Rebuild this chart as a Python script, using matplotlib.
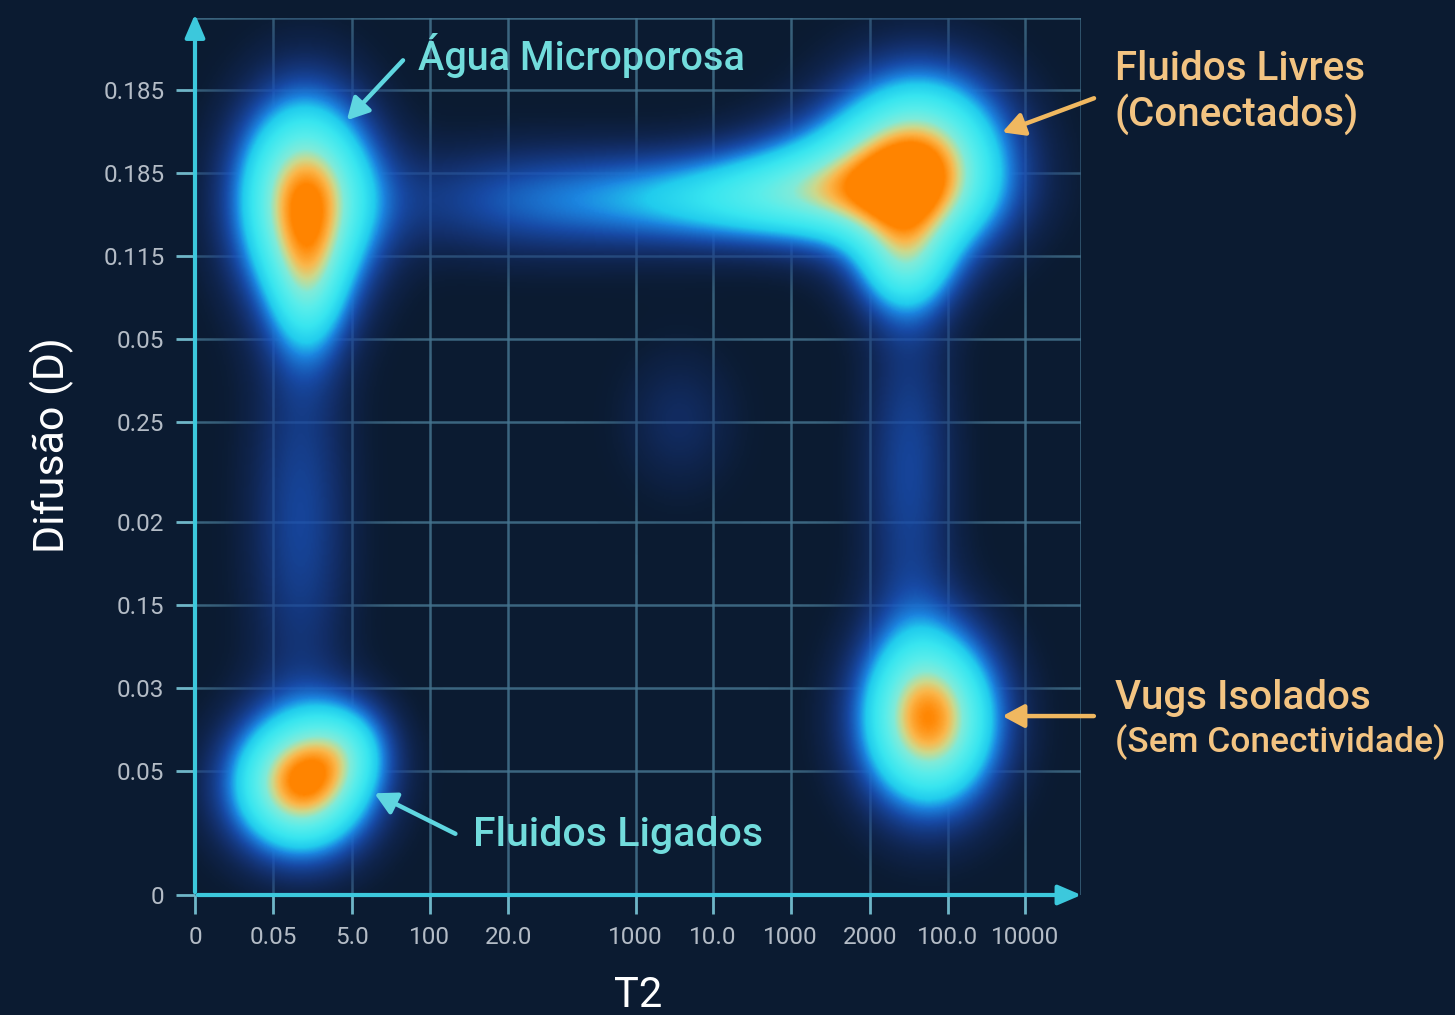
import numpy as np
import matplotlib.pyplot as plt
from matplotlib.colors import LinearSegmentedColormap

plt.rcParams['font.family'] = ['Roboto', 'DejaVu Sans']

t2_labels = ['0', '0.05', '5.0', '100', '20.0', '1000', '10.0', '1000', '2000', '100.0', '10000']
t2_pos = [0, 1, 2, 3, 4, 5.63, 6.62, 7.61, 8.62, 9.62, 10.61]
d_labels = ['0', '0.05', '0.03', '0.15', '0.02', '0.25', '0.05', '0.115', '0.185', '0.185']
d_pos = [0, 1.49, 2.49, 3.49, 4.49, 5.70, 6.70, 7.70, 8.70, 9.70]

# componentes do mapa T2-D (centro, espalhamento, amplitude)
blob_x = [1.40, 1.44, 9.26, 7.30, 7.95, 9.07, 9.39, 1.34, 1.98, 1.34, 4.28, 9.13, 6.19]
blob_y = [8.40, 7.20, 8.84, 8.40, 8.72, 7.57, 2.11, 1.33, 1.81, 4.52, 8.37, 5.12, 5.72]
blob_sx = [0.62, 0.35, 0.80, 1.45, 0.80, 0.45, 0.63, 0.64, 0.42, 0.50, 1.40, 0.45, 0.55]
blob_sy = [0.88, 0.60, 0.76, 0.42, 0.50, 0.45, 0.76, 0.60, 0.42, 1.70, 0.50, 1.60, 0.65]
blob_amp = [0.95, 0.30, 0.92, 0.50, 0.22, 0.42, 0.96, 0.95, 0.26, 0.24, 0.26, 0.24, 0.14]

xmax, ymax = 11.32, 10.57
bg = '#0b1b31'

xx = np.linspace(0, xmax, 700)
yy = np.linspace(0, ymax, 650)
X, Y = np.meshgrid(xx, yy)
Z = np.zeros_like(X)
for cx, cy, sx, sy, a in zip(blob_x, blob_y, blob_sx, blob_sy, blob_amp):
    Z += a * np.exp(-0.5 * ((X - cx) / sx) ** 2 - 0.5 * ((Y - cy) / sy) ** 2)
Z = np.clip(Z, 0, 1)

nodes = [
    (0.00, (0.05, 0.11, 0.19, 0.0)),
    (0.06, (0.07, 0.16, 0.36, 0.35)),
    (0.15, (0.09, 0.22, 0.52, 0.65)),
    (0.26, (0.10, 0.32, 0.72, 0.88)),
    (0.36, (0.11, 0.52, 0.88, 1.0)),
    (0.44, (0.13, 0.80, 0.93, 1.0)),
    (0.55, (0.22, 0.90, 0.94, 1.0)),
    (0.68, (0.35, 0.93, 0.92, 1.0)),
    (0.78, (0.50, 0.92, 0.85, 1.0)),
    (0.86, (0.80, 0.85, 0.55, 1.0)),
    (0.92, (0.98, 0.72, 0.30, 1.0)),
    (0.97, (1.00, 0.60, 0.12, 1.0)),
    (1.00, (1.00, 0.52, 0.00, 1.0)),
]
cmap = LinearSegmentedColormap.from_list('t2d', nodes)

fig = plt.figure(figsize=(14.55, 10.15), dpi=100, facecolor=bg)
ax = fig.add_axes([195 / 1455, 1 - 895 / 1015, 886 / 1455, 877 / 1015])
ax.set_facecolor(bg)
ax.set_xlim(0, xmax)
ax.set_ylim(0, ymax)

gcol = '#44738e'
for p in t2_pos[1:]:
    ax.axvline(p, color=gcol, lw=1.8, alpha=0.85, zorder=0.5)
for p in d_pos[1:]:
    ax.axhline(p, color=gcol, lw=1.8, alpha=0.85, zorder=0.5)
ax.axvline(xmax, color=gcol, lw=1.8, alpha=0.85, zorder=0.5)
ax.axhline(ymax, color=gcol, lw=1.8, alpha=0.85, zorder=0.5)

ax.imshow(Z, extent=[0, xmax, 0, ymax], origin='lower', cmap=cmap,
          vmin=0, vmax=1, aspect='auto', interpolation='bilinear', zorder=1)

for s in ax.spines.values():
    s.set_visible(False)

acol = '#3cc8dc'
ax.annotate('', xy=(0, ymax + 0.08), xytext=(0, 0), annotation_clip=False,
            arrowprops=dict(arrowstyle='-|>,head_length=1.4,head_width=0.6',
                            color=acol, lw=3), zorder=3)
ax.annotate('', xy=(xmax + 0.04, 0), xytext=(0, 0), annotation_clip=False,
            arrowprops=dict(arrowstyle='-|>,head_length=1.4,head_width=0.6',
                            color=acol, lw=3), zorder=3)

ax.set_xticks(t2_pos)
ax.set_xticklabels(t2_labels)
ax.set_yticks(d_pos)
ax.set_yticklabels(d_labels)
ax.tick_params(colors='#6fb6c8', labelcolor='#b4bcc6', labelsize=17.5,
               length=14, width=2, pad=8)

ax.set_xlabel('T2', color='white', fontsize=30, labelpad=19)
ax.set_ylabel('Difusão (D)', color='white', fontsize=31)
ax.yaxis.set_label_coords(-0.137, 0.513)

cyan_txt = '#72dcdc'
orange_txt = '#f3c482'


def px(x, y):
    return ((x - 195) / 78.3, (895 - y) / 83)


def note(xt, xa, col):
    ax.annotate('', xy=px(*xa), xytext=px(*xt), annotation_clip=False,
                arrowprops=dict(arrowstyle='-|>,head_length=1.3,head_width=0.7',
                                color=col, lw=3.2), zorder=4)


ax.text(*px(418, 55), 'Água Microporosa', color=cyan_txt, fontsize=28.5,
        weight='medium', va='center', ha='left', zorder=5)
note((405, 58), (345, 122), '#5fd6e0')

ax.text(*px(1115, 92), 'Fluidos Livres\n(Conectados)', color=orange_txt,
        fontsize=29, weight='medium', va='center', ha='left',
        linespacing=1.15, zorder=5, clip_on=False)
note((1097, 97), (1000, 133), '#f0b860')

ax.text(*px(1115, 698), 'Vugs Isolados', color=orange_txt, fontsize=29,
        weight='medium', va='center', ha='left', zorder=5, clip_on=False)
ax.text(*px(1115, 742), '(Sem Conectividade)', color=orange_txt, fontsize=25.5,
        weight='medium', va='center', ha='left', zorder=5, clip_on=False)
note((1097, 716), (1000, 716), '#f0b860')

ax.text(*px(473, 835), 'Fluidos Ligados', color=cyan_txt, fontsize=29.5,
        weight='medium', va='center', ha='left', zorder=5)
note((458, 835), (372, 792), '#5fd6e0')

fig.savefig('out.png', dpi=100, facecolor=bg)
